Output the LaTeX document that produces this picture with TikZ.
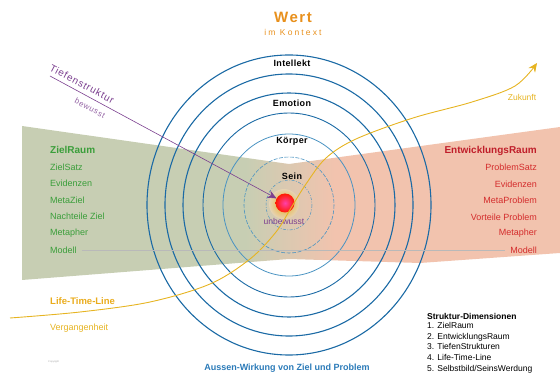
\documentclass[tikz,border=0pt]{standalone}
\usepackage{fontspec}
\setmainfont{Liberation Sans}
\usetikzlibrary{arrows.meta}
\definecolor{ringblue}{HTML}{1B6AA5}
\definecolor{ringlight}{HTML}{4A93C2}
\definecolor{zielgreen}{HTML}{3A9E3A}
\definecolor{zielbg}{HTML}{C7CEB3}
\definecolor{probbg}{HTML}{F2C3AE}
\definecolor{mittebg}{HTML}{E6D3B4}
\definecolor{probred}{HTML}{D42C2C}
\definecolor{probdark}{HTML}{C01E2A}
\definecolor{wertorange}{HTML}{E8901C}
\definecolor{lebengelb}{HTML}{E6B422}
\definecolor{tiefpurple}{HTML}{7B3F8F}
\definecolor{aussenblue}{HTML}{2A7AB8}
\begin{document}
\begin{tikzpicture}[x=1pt,y=-1pt,
    ring/.style={draw=ringblue, line width=1.1pt},
    ziel/.style={anchor=west, inner sep=0pt, text=zielgreen, font=\fontsize{9}{10}\selectfont},
    prob/.style={anchor=east, inner sep=0pt, text=probred, font=\fontsize{9}{10}\selectfont},
    ebene/.style={inner sep=0pt, font=\fontsize{9}{10}\selectfont\bfseries\addfontfeature{LetterSpace=4}}]
    \useasboundingbox (0,0) rectangle (560,374);

    % Hintergrund: ZielRaum links, EntwicklungsRaum rechts
    \begin{scope}
        \clip (22,126) -- (289,164) -- (560,127) -- (560,253) -- (420,263) -- (289,259) -- (22,280) -- cycle;
        \fill[zielbg] (0,100) rectangle (245,300);
        \shade[left color=zielbg, middle color=mittebg, right color=probbg] (245,100) rectangle (335,300);
        \fill[probbg] (335,100) rectangle (561,300);
    \end{scope}

    % Kreise um den Kern
    \coordinate (mitte) at (289,205);
    \draw[ring] (mitte) ellipse [x radius=142, y radius=150];
    \draw[ring] (mitte) ellipse [x radius=124, y radius=131];
    \draw[ring] (mitte) ellipse [x radius=106, y radius=112];
    \draw[ring, line width=0.9pt] (mitte) ellipse [x radius=86, y radius=92];
    \draw[ring, draw=ringlight, line width=0.8pt] (mitte) ellipse [x radius=66, y radius=71];
    \draw[ring, draw=ringlight, line width=0.6pt, dash pattern=on 4pt off 1.5pt] (mitte) ellipse [x radius=45, y radius=48];
    \draw[ring, draw=ringlight, line width=0.5pt, dash pattern=on 3pt off 1.5pt on 0.8pt off 1.5pt] (mitte) ellipse [x radius=23, y radius=25];

    \node[ebene] (intellekt) at (292,63) {Intellekt};
    \node[ebene] (emotion) at (292,103) {Emotion};
    \node[ebene] (koerper) at (292,141) {Körper};
    \node[ebene] (sein) at (292,176) {Sein};

    % Kern
    \shade[inner color=lebengelb!85!orange, outer color=mittebg] (284,204) circle (15);
    \shade[inner color=magenta!55!red!75!white, outer color=red!80!orange] (285,203) circle (9.5);
    \node[circle, minimum size=19pt, inner sep=0pt] (kern) at (285,203) {};
    \node[inner sep=0pt, text=tiefpurple, font=\fontsize{8.5}{10}\selectfont] (unbewusst) at (284,221) {unbewusst};

    % Tiefenstruktur
    \coordinate (tief) at (50,76);
    \draw[tiefpurple, line width=0.6pt, -{Stealth[length=9pt,width=8pt]}] (tief) -- (kern);
    \node[rotate=-28, inner sep=0pt, text=tiefpurple, font=\fontsize{10}{11}\selectfont\addfontfeature{LetterSpace=8}] (tiefname) at (82,84) {Tiefenstruktur};
    \node[rotate=-28, inner sep=0pt, text=tiefpurple!80, font=\fontsize{8}{9}\selectfont\addfontfeature{LetterSpace=8}] (bewusst) at (90,108) {bewusst};

    % Life-Time-Line
    \coordinate (vergangen) at (10,318);
    \coordinate (zukunft) at (537,63);
    \draw[lebengelb, line width=0.9pt, -{Stealth[length=9pt,width=8pt]}]
        plot[smooth, tension=0.55] coordinates {(vergangen) (80,312) (150,302) (210,284) (250,259) (276,232) (291,208) (306,184) (326,158) (356,139) (413,118) (472,102) (515,86) (zukunft)};

    % Modell-Linie
    \node[ziel] (zielmodell) at (50,250) {Modell};
    \node[prob] (probmodell) at (537,250) {Modell};
    \draw[gray!55, line width=0.5pt] ([xshift=5pt]zielmodell.east) -- ([xshift=-5pt]probmodell.west);

    % ZielRaum
    \node[ziel, font=\fontsize{10}{11}\selectfont\bfseries] (zielraum) at (50,150) {ZielRaum};
    \node[ziel] (zielsatz) at (50,167) {ZielSatz};
    \node[ziel] (zielevid) at (50,183) {Evidenzen};
    \node[ziel] (metaziel) at (50,200) {MetaZiel};
    \node[ziel] (nachteile) at (50,216) {Nachteile Ziel};
    \node[ziel] (zielmeta) at (50,233) {Metapher};

    % EntwicklungsRaum
    \node[prob, text=probdark, font=\fontsize{10}{11}\selectfont\bfseries] (entwraum) at (537,151) {EntwicklungsRaum};
    \node[prob] (problemsatz) at (537,167) {ProblemSatz};
    \node[prob] (probevid) at (537,184) {Evidenzen};
    \node[prob] (metaproblem) at (537,200) {MetaProblem};
    \node[prob] (vorteile) at (537,217) {Vorteile Problem};
    \node[prob] (probmeta) at (537,233) {Metapher};

    % Wert
    \node[inner sep=0pt, text=wertorange, font=\fontsize{15}{17}\selectfont\bfseries\addfontfeature{LetterSpace=10}] (wert) at (293,17) {Wert};
    \node[inner sep=0pt, text=wertorange, font=\fontsize{8.5}{10}\selectfont\addfontfeature{LetterSpace=25}] (kontext) at (293,32) {im Kontext};

    % Zeit
    \node[anchor=west, inner sep=0pt, text=lebengelb!85!orange, font=\fontsize{9.5}{11}\selectfont\bfseries] (lebenname) at (50,301) {Life-Time-Line};
    \node[anchor=west, inner sep=0pt, text=lebengelb, font=\fontsize{9}{10}\selectfont] (vergname) at (50,328) {Vergangenheit};
    \node[inner sep=0pt, text=lebengelb, font=\fontsize{8.5}{10}\selectfont] (zukname) at (522,97) {Zukunft};

    % unten
    \node[inner sep=0pt, text=aussenblue, font=\fontsize{9}{10}\selectfont\bfseries] (aussen) at (287,368) {Aussen-Wirkung von Ziel und Problem};
    \node[anchor=west, inner sep=0pt, font=\fontsize{8.5}{10}\selectfont\bfseries] (dimtitel) at (427,316) {Struktur-Dimensionen};
    \node[anchor=north west, inner sep=0pt, align=left, font=\fontsize{8.5}{10.8}\selectfont] (dimliste) at (427,322)
        {1. ZielRaum\\2. EntwicklungsRaum\\3. TiefenStrukturen\\4. Life-Time-Line\\5. Selbstbild/SeinsWerdung};
    \node[anchor=west, inner sep=0pt, text=gray!70, font=\fontsize{2.5}{3}\selectfont] (copyright) at (48,362) {Copyright};
\end{tikzpicture}
\end{document}
